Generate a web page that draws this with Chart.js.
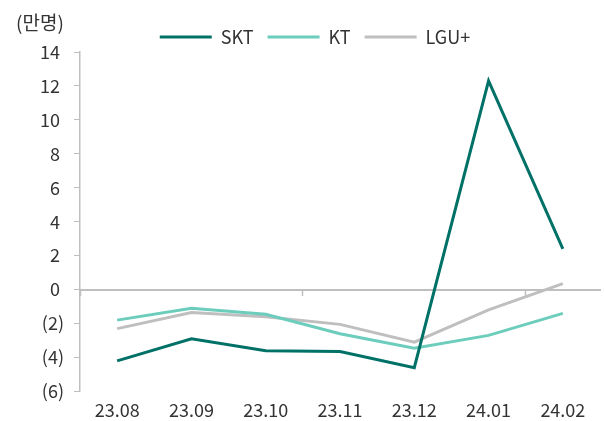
<!DOCTYPE html>
<html>
<head>
<meta charset="utf-8">
<script src="https://cdn.jsdelivr.net/npm/chart.js@4"></script>
<style>
    body { margin: 0; background: #fff; }
    #wrap { position: relative; width: 604px; height: 421px; }
    #unit {
        position: absolute; left: 16px; top: 12px; line-height: 19px;
        font-family: "Noto Sans CJK KR", sans-serif; font-size: 19px; color: #333;
    }
</style>
</head>
<body>
<div id="wrap">
    <canvas id="chart"></canvas>
    <div id="unit">(만명)</div>
</div>
<script>
const months = ['23.08', '23.09', '23.10', '23.11', '23.12', '24.01', '24.02'];
const skt = [-4.2, -2.9, -3.6, -3.65, -4.6, 12.3, 2.4];
const kt = [-1.8, -1.1, -1.45, -2.6, -3.45, -2.7, -1.4];
const lgu = [-2.3, -1.35, -1.6, -2.05, -3.1, -1.2, 0.35];

const gray = '#bfbfbf';
const font = { family: '"Noto Sans CJK KR", sans-serif', size: 18 };

function line(label, data, color) {
    return {
        label: label,
        data: data,
        borderColor: color,
        backgroundColor: color,
        borderWidth: 3,
        pointRadius: 0,
        pointStyle: 'line',
        tension: 0,
        xAxisID: 'x'
    };
}

// squeeze the legend box so the plot starts where the original does
const legendHeight = {
    id: 'legendHeight',
    beforeInit(chart) {
        const fit = chart.legend.fit;
        chart.legend.fit = function () {
            fit.bind(chart.legend)();
            this.height = 38;
        };
    }
};

const ctx = document.getElementById('chart').getContext('2d');
const myChart = new Chart(ctx, {
    type: 'line',
    data: {
        labels: months,
        datasets: [
            line('SKT', skt, '#007167'),
            line('KT', kt, '#6ccdbd'),
            line('LGU+', lgu, gray)
        ]
    },
    plugins: [legendHeight],
    options: {
        responsive: true,
        maintainAspectRatio: false,
        animation: false,
        layout: { padding: { top: 14, right: 4, left: 30, bottom: -8 } },
        plugins: {
            legend: {
                labels: {
                    font: font,
                    color: '#333',
                    usePointStyle: true,
                    pointStyleWidth: 52,
                    padding: 14
                }
            },
            tooltip: { enabled: false }
        },
        scales: {
            x: {
                offset: true,
                grid: { display: false, drawTicks: false },
                border: { display: false },
                ticks: { font: font, color: '#333', padding: 8 }
            },
            x0: {
                type: 'category',
                position: { y: 0 },
                offset: true,
                grid: {
                    offset: true,
                    drawOnChartArea: false,
                    tickLength: 5,
                    tickWidth: 1.5,
                    tickColor: c => c.index % 3 === 0 ? gray : 'transparent'
                },
                border: { color: gray, width: 2 },
                ticks: { display: false }
            },
            y: {
                min: -6,
                max: 14,
                ticks: {
                    stepSize: 2,
                    font: font,
                    color: '#333',
                    padding: 10,
                    callback: v => v < 0 ? '(' + Math.abs(v) + ')' : v + ' '
                },
                grid: { drawOnChartArea: false, tickLength: 6, color: gray },
                border: { color: gray, width: 1.5 }
            }
        }
    }
});
</script>
</body>
</html>
